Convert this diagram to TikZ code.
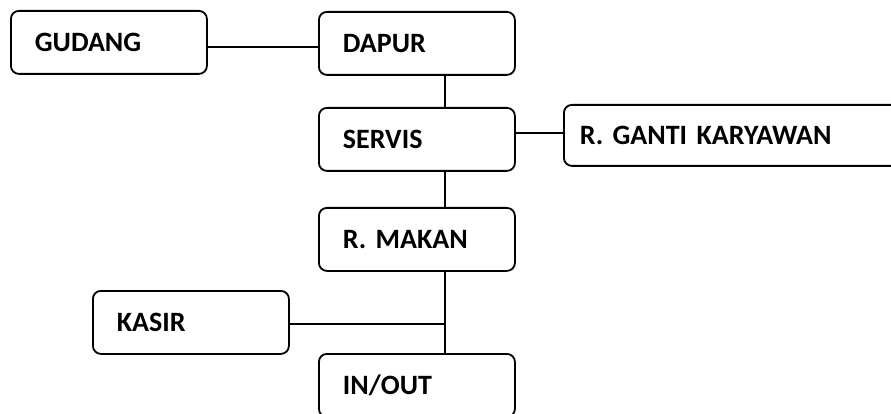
\documentclass[tikz,border=0pt]{standalone}
\usepackage{fontspec}
\setmainfont{Carlito}
\begin{document}
\begin{tikzpicture}[x=1pt,y=-1pt,
  roombox/.style={draw, line width=1.8pt, rounded corners=8pt, anchor=north west,
    minimum height=63pt, inner xsep=24pt, align=left,
    font=\fontsize{28}{31}\selectfont\bfseries},
  link/.style={line width=1.8pt}]
  \useasboundingbox (0,0) rectangle (891,414);
  \clip (0,0) rectangle (891,414);
  % rooms
  \node[roombox, text width=148pt] (gudang) at (10,10) {GUDANG};
  \node[roombox, text width=148pt] (dapur) at (318,11) {DAPUR};
  \node[roombox, text width=148pt] (servis) at (318,107) {SERVIS};
  \node[roombox, text width=310pt, inner xsep=16pt, minimum height=61pt] (ganti) at (563,104) {R. GANTI KARYAWAN};
  \node[roombox, text width=148pt] (makan) at (318,207) {R. MAKAN};
  \node[roombox, text width=148pt] (kasir) at (92,290) {KASIR};
  \node[roombox, text width=148pt] (inout) at (318,353) {IN/OUT};
  % main circulation line
  \coordinate (spine) at (445,0);
  \draw[link] ([yshift=-5pt]gudang.east) -- ([yshift=-5pt]gudang.east -| dapur.west);
  \draw[link] (dapur.south -| spine) -- (servis.north -| spine);
  \draw[link] ([yshift=2.5pt]ganti.west) -- ([yshift=2.5pt]ganti.west -| servis.east);
  \draw[link] (servis.south -| spine) -- (makan.north -| spine);
  \draw[link] (makan.south -| spine) -- (inout.north -| spine);
  \draw[link] ([yshift=-1.5pt]kasir.east) -- ([yshift=-1.5pt]kasir.east -| spine);
\end{tikzpicture}
\end{document}
